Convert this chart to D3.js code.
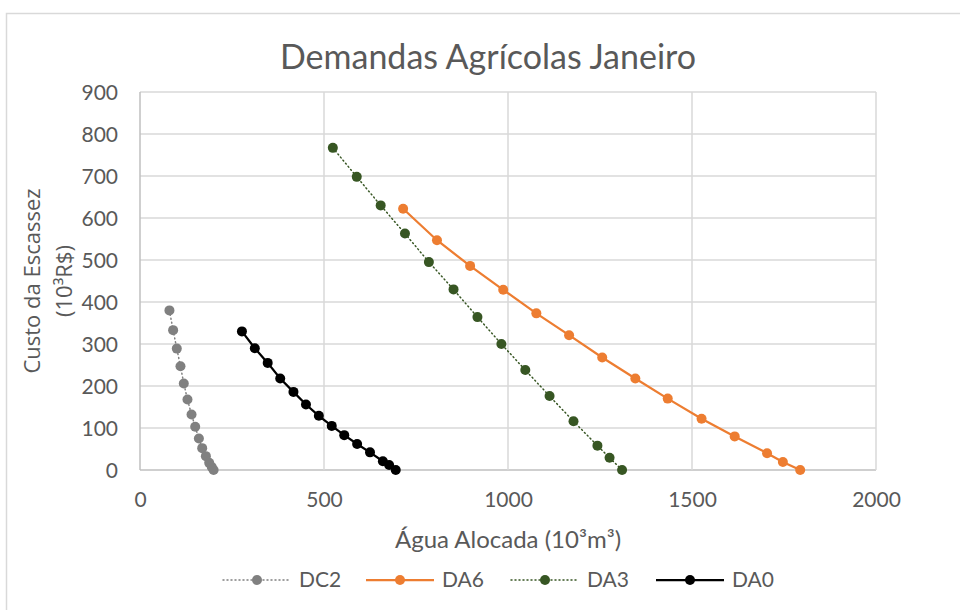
<!DOCTYPE html>
<html>
<head>
<meta charset="utf-8">
<script src="https://cdn.jsdelivr.net/npm/d3@7"></script>
<style>
  body { margin: 0; background: #fff; }
  text { font-family: Lato, "Open Sans", sans-serif; fill: #595959; }
</style>
</head>
<body>
<div id="graph"></div>
<script>
// data (x = água alocada, y = custo da escassez)
const seriesNames = ['DC2', 'DA6', 'DA3', 'DA0'];

const dc2X = [80, 90, 100, 110, 119, 129, 140, 150, 160, 169, 179, 188, 195, 200];
const dc2Y = [380, 333, 289, 247, 206, 168, 132, 103, 75, 52, 33, 17, 7, 0];

const da6X = [715, 807, 897, 987, 1077, 1166, 1256, 1346, 1434, 1526, 1616, 1704, 1747, 1794];
const da6Y = [622, 547, 486, 429, 373, 321, 268, 218, 170, 122, 80, 40, 19, 0];

const da3X = [524, 589, 654, 720, 785, 852, 917, 982, 1047, 1113, 1178, 1243, 1276, 1310];
const da3Y = [767, 698, 630, 563, 495, 430, 364, 300, 238, 176, 116, 58, 29, 0];

const da0X = [277, 312, 347, 381, 417, 451, 486, 521, 555, 590, 625, 660, 677, 695];
const da0Y = [330, 290, 255, 218, 186, 156, 129, 105, 83, 62, 42, 21, 12, 0];

const xTicks = [0, 500, 1000, 1500, 2000];
const yTicks = [0, 100, 200, 300, 400, 500, 600, 700, 800, 900];

const styles = {
  DC2: { color: '#808080', width: 1.5, dash: '1,3' },
  DA6: { color: '#ED7D31', width: 2.25, dash: null },
  DA3: { color: '#375623', width: 1.5, dash: '1,3' },
  DA0: { color: '#000000', width: 2.25, dash: null },
};

const zip = (xs, ys) => xs.map((x, i) => ({ x, y: ys[i] }));
const dataset = {
  DC2: zip(dc2X, dc2Y),
  DA6: zip(da6X, da6Y),
  DA3: zip(da3X, da3Y),
  DA0: zip(da0X, da0Y),
};

let dimensions = {
  width: 960,
  height: 610,
  margin: { top: 92, right: 84, bottom: 140, left: 140 },
};
dimensions.boundedWidth = dimensions.width - dimensions.margin.left - dimensions.margin.right;
dimensions.boundedHeight = dimensions.height - dimensions.margin.top - dimensions.margin.bottom;

function drawChart() {
  const wrapper = d3.select('#graph')
    .append('svg')
    .attr('width', dimensions.width)
    .attr('height', dimensions.height);

  // outer chart border (runs off the right and bottom edge)
  wrapper.append('rect')
    .attr('x', 6.5)
    .attr('y', 13.5)
    .attr('width', 1000)
    .attr('height', 700)
    .attr('fill', 'none')
    .attr('stroke', '#d9d9d9')
    .attr('stroke-width', 1.5);

  const bounds = wrapper.append('g')
    .attr('transform', `translate(${dimensions.margin.left},${dimensions.margin.top})`);

  const xScaler = d3.scaleLinear()
    .domain([0, 2000])
    .range([0, dimensions.boundedWidth]);

  const yScaler = d3.scaleLinear()
    .domain([0, 900])
    .range([dimensions.boundedHeight, 0]);

  // gridlines
  const grid = bounds.append('g').attr('class', 'grid');
  grid.selectAll('line.h')
    .data(yTicks)
    .enter()
    .append('line')
    .attr('x1', 0)
    .attr('x2', dimensions.boundedWidth)
    .attr('y1', d => yScaler(d))
    .attr('y2', d => yScaler(d))
    .attr('stroke', d => d === 0 ? '#bfbfbf' : '#d9d9d9')
    .attr('stroke-width', 1.5);
  grid.selectAll('line.v')
    .data(xTicks)
    .enter()
    .append('line')
    .attr('y1', 0)
    .attr('y2', dimensions.boundedHeight)
    .attr('x1', d => xScaler(d))
    .attr('x2', d => xScaler(d))
    .attr('stroke', d => d === 0 ? '#bfbfbf' : '#d9d9d9')
    .attr('stroke-width', 1.5);

  // axes (labels only)
  const xAxisGen = d3.axisBottom(xScaler)
    .tickValues(xTicks)
    .tickFormat(d3.format('d'))
    .tickSize(0)
    .tickPadding(22);
  const yAxisGen = d3.axisLeft(yScaler)
    .tickValues(yTicks)
    .tickFormat(d3.format('d'))
    .tickSize(0)
    .tickPadding(22);

  const xAxis = bounds.append('g')
    .attr('transform', `translate(0,${dimensions.boundedHeight})`)
    .call(xAxisGen);
  const yAxis = bounds.append('g').call(yAxisGen);

  [xAxis, yAxis].forEach(ax => {
    ax.select('.domain').remove();
    ax.selectAll('text')
      .attr('font-size', 21)
      .style('font-family', 'Lato, sans-serif')
      .attr('fill', '#595959');
  });
  yAxis.selectAll('text').attr('dy', '0.35em');

  // series
  const lineGen = d3.line()
    .x(d => xScaler(d.x))
    .y(d => yScaler(d.y));

  seriesNames.forEach(name => {
    const s = styles[name];
    const g = bounds.append('g').attr('class', 'series-' + name);
    g.append('path')
      .datum(dataset[name])
      .attr('d', lineGen)
      .attr('fill', 'none')
      .attr('stroke', s.color)
      .attr('stroke-width', s.width)
      .attr('stroke-linecap', s.dash ? 'round' : 'butt')
      .attr('stroke-dasharray', s.dash);
    g.selectAll('circle')
      .data(dataset[name])
      .enter()
      .append('circle')
      .attr('cx', d => xScaler(d.x))
      .attr('cy', d => yScaler(d.y))
      .attr('r', 5)
      .attr('fill', s.color);
  });

  // title
  wrapper.append('text')
    .attr('x', 488)
    .attr('y', 69)
    .attr('text-anchor', 'middle')
    .attr('font-size', 34)
    .text('Demandas Agrícolas Janeiro');

  // x title
  wrapper.append('text')
    .attr('x', 508)
    .attr('y', 548)
    .attr('text-anchor', 'middle')
    .attr('font-size', 24)
    .text('Água Alocada (10³m³)');

  // y title, two lines
  const yLabel = wrapper.append('text')
    .attr('transform', 'translate(0,281) rotate(-90)')
    .attr('text-anchor', 'middle')
    .attr('font-size', 22)
    .style('font-family', '"Open Sans", sans-serif');
  yLabel.append('tspan').attr('x', 0).attr('y', 40).text('Custo da Escassez');
  yLabel.append('tspan').attr('x', 0).attr('y', 72).text('(10³R$)');

  // legend
  const legendItems = [
    { name: 'DC2', x0: 223 },
    { name: 'DA6', x0: 366 },
    { name: 'DA3', x0: 511 },
    { name: 'DA0', x0: 656 },
  ];
  const legend = wrapper.append('g').attr('transform', 'translate(0,580)');
  legendItems.forEach(item => {
    const s = styles[item.name];
    const g = legend.append('g').attr('transform', `translate(${item.x0},0)`);
    g.append('line')
      .attr('x1', 0).attr('x2', 68)
      .attr('y1', 0).attr('y2', 0)
      .attr('stroke', s.color)
      .attr('stroke-width', s.width)
      .attr('stroke-linecap', s.dash ? 'round' : 'butt')
      .attr('stroke-dasharray', s.dash);
    g.append('circle')
      .attr('cx', 34).attr('cy', 0).attr('r', 5)
      .attr('fill', s.color);
    g.append('text')
      .attr('x', 76)
      .attr('dy', '0.35em')
      .attr('font-size', 21)
      .text(item.name);
  });
}

drawChart();
</script>
</body>
</html>
